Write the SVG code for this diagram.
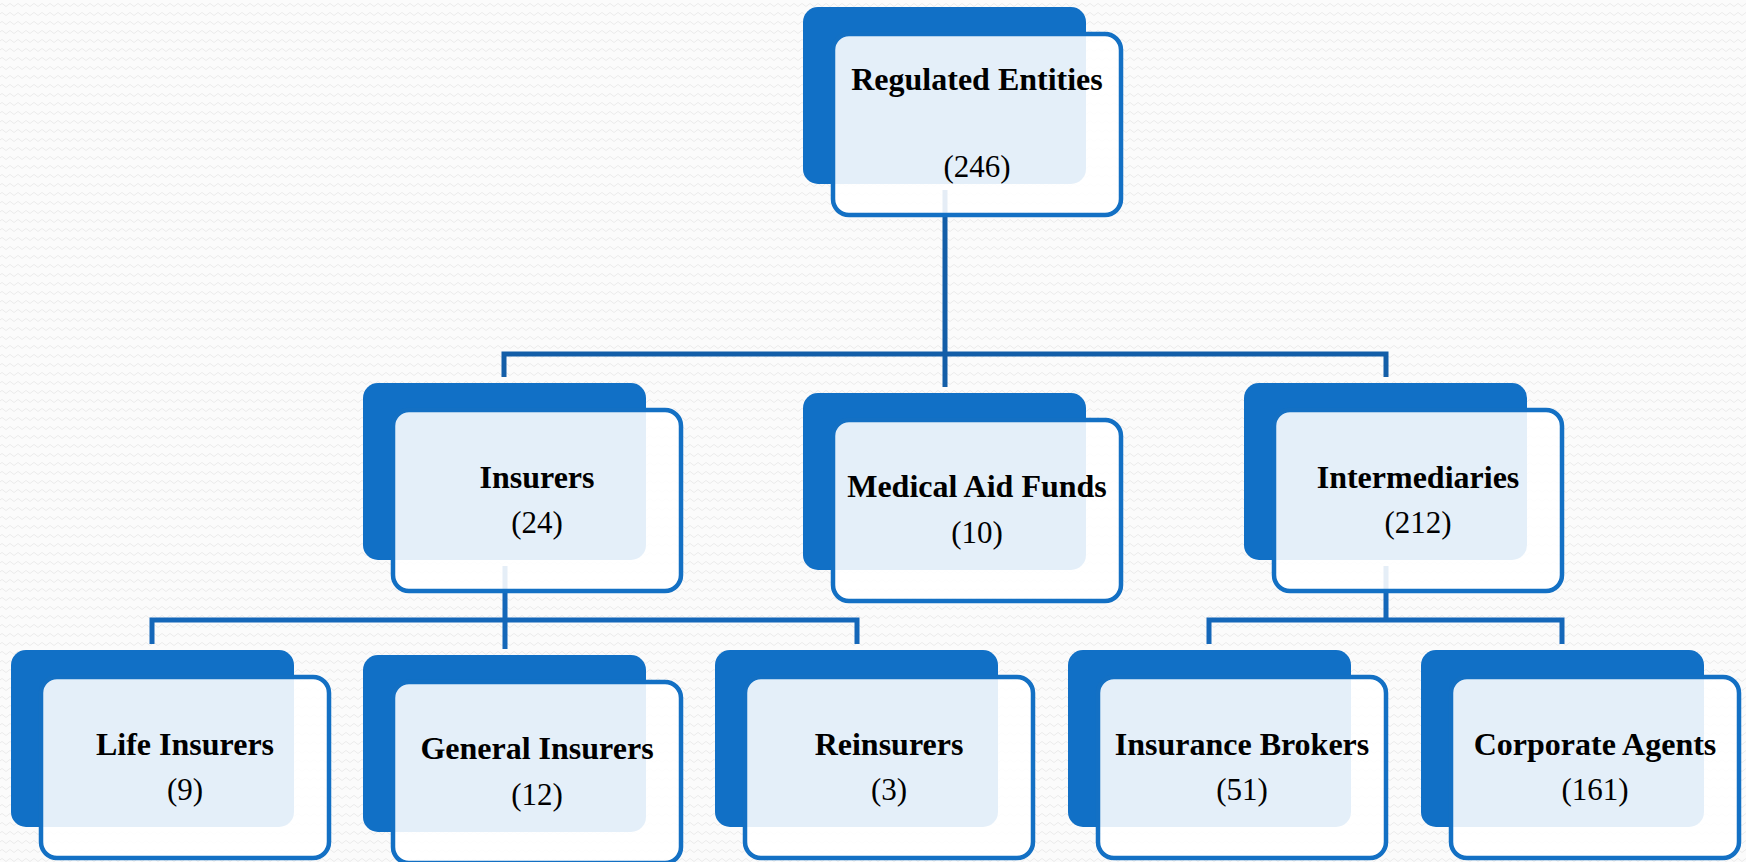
<svg xmlns="http://www.w3.org/2000/svg" width="1746" height="862" viewBox="0 0 1746 862">
<style>
.back{fill:#1170C6}
.front{fill:#ffffff;fill-opacity:0.89;stroke:#1370C4;stroke-width:4.5}
.title{font-family:"Liberation Serif",serif;font-weight:bold;font-size:32px;fill:#000;text-anchor:middle}
.num{font-family:"Liberation Serif",serif;font-size:31px;fill:#000;text-anchor:middle}
.c1{fill:none;stroke:#135EA8;stroke-width:5}
.c2{fill:none;stroke:#1467B9;stroke-width:5}
</style>
<defs>
<pattern id="waves" width="8" height="9" patternUnits="userSpaceOnUse">
<path d="M0 5 Q2 2 4 5 T8 5" fill="none" stroke="#ebebeb" stroke-width="1"/>
</pattern>
</defs>
<rect width="1746" height="862" fill="#fbfbfb"/>
<rect width="1746" height="862" fill="url(#waves)"/>
<g id="connectors">
<path class="c1" d="M945 190 V354 M504 377 V354 H1386 V377 M945 354 V387"/>
<path class="c2" d="M505 566 V620 M152 644 V620 H857 V644 M505 620 V649"/>
<path class="c2" d="M1386 566 V620 M1209 644 V620 H1562 V644"/>
</g>
<g id="node-regulated">
<rect class="back" x="803" y="7" width="283" height="177" rx="15"/>
<rect class="front" x="833" y="34" width="288" height="181" rx="16"/>
<text class="title" x="977" y="90">Regulated Entities</text>
<text class="num" x="977" y="177">(246)</text>
</g>
<g id="node-insurers">
<rect class="back" x="363" y="383" width="283" height="177" rx="15"/>
<rect class="front" x="393" y="410" width="288" height="181" rx="16"/>
<text class="title" x="537" y="488">Insurers</text>
<text class="num" x="537" y="533">(24)</text>
</g>
<g id="node-medical">
<rect class="back" x="803" y="393" width="283" height="177" rx="15"/>
<rect class="front" x="833" y="420" width="288" height="181" rx="16"/>
<text class="title" x="977" y="497">Medical Aid Funds</text>
<text class="num" x="977" y="543">(10)</text>
</g>
<g id="node-intermediaries">
<rect class="back" x="1244" y="383" width="283" height="177" rx="15"/>
<rect class="front" x="1274" y="410" width="288" height="181" rx="16"/>
<text class="title" x="1418" y="488">Intermediaries</text>
<text class="num" x="1418" y="533">(212)</text>
</g>
<g id="node-life">
<rect class="back" x="11" y="650" width="283" height="177" rx="15"/>
<rect class="front" x="41" y="677" width="288" height="181" rx="16"/>
<text class="title" x="185" y="755">Life Insurers</text>
<text class="num" x="185" y="800">(9)</text>
</g>
<g id="node-general">
<rect class="back" x="363" y="655" width="283" height="177" rx="15"/>
<rect class="front" x="393" y="682" width="288" height="181" rx="16"/>
<text class="title" x="537" y="759">General Insurers</text>
<text class="num" x="537" y="805">(12)</text>
</g>
<g id="node-reinsurers">
<rect class="back" x="715" y="650" width="283" height="177" rx="15"/>
<rect class="front" x="745" y="677" width="288" height="181" rx="16"/>
<text class="title" x="889" y="755">Reinsurers</text>
<text class="num" x="889" y="800">(3)</text>
</g>
<g id="node-brokers">
<rect class="back" x="1068" y="650" width="283" height="177" rx="15"/>
<rect class="front" x="1098" y="677" width="288" height="181" rx="16"/>
<text class="title" x="1242" y="755">Insurance Brokers</text>
<text class="num" x="1242" y="800">(51)</text>
</g>
<g id="node-corporate">
<rect class="back" x="1421" y="650" width="283" height="177" rx="15"/>
<rect class="front" x="1451" y="677" width="288" height="181" rx="16"/>
<text class="title" x="1595" y="755">Corporate Agents</text>
<text class="num" x="1595" y="800">(161)</text>
</g>
</svg>
